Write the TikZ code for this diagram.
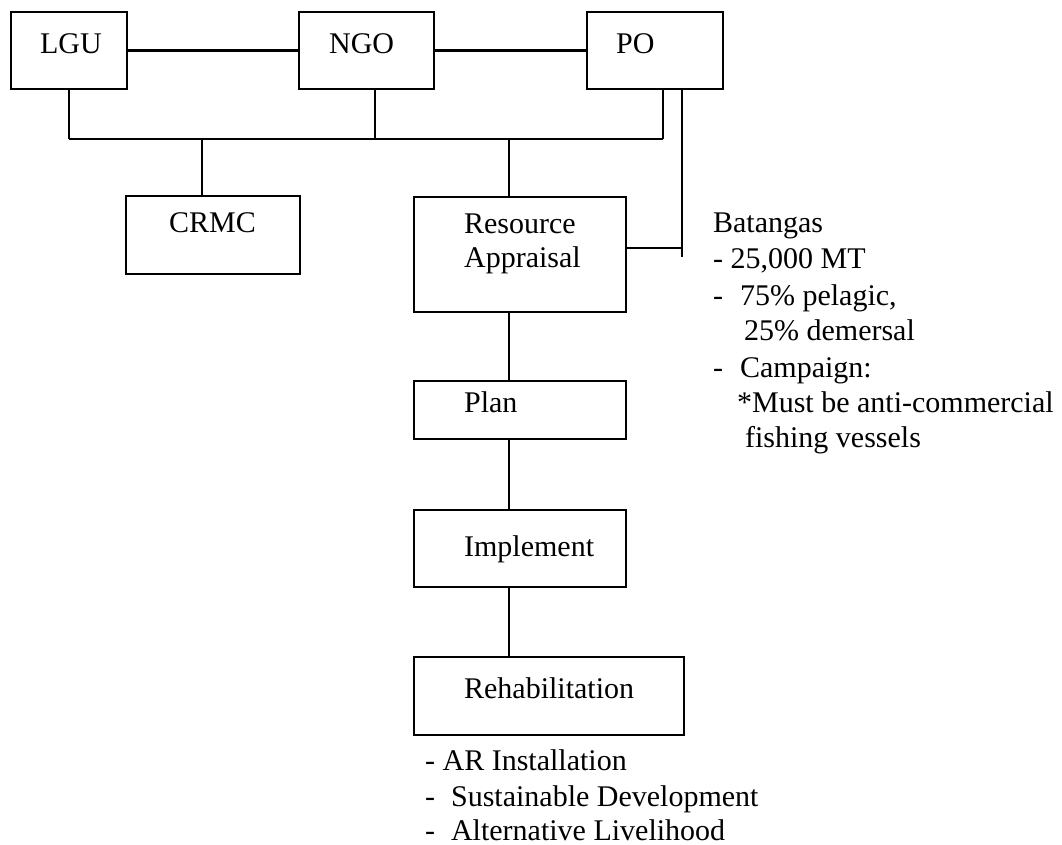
\documentclass[tikz,border=0pt]{standalone}
\usepackage{fontspec}
\setmainfont{Liberation Serif}
\begin{document}
\begin{tikzpicture}[x=1pt,y=-1pt,line width=2.2pt,
  box/.style={draw, rectangle, anchor=north west, inner sep=0pt},
  lbl/.style={anchor=base west, inner sep=0pt, font=\fontsize{30}{36}\selectfont}]
\useasboundingbox (0,0) rectangle (1062,845);
% boxes
\node[box, minimum width=116pt, minimum height=77pt] (lgu) at (10,11) {};
\node[box, minimum width=135pt, minimum height=77pt] (ngo) at (298,11) {};
\node[box, minimum width=136pt, minimum height=77pt] (po) at (586,11) {};
\node[box, minimum width=174pt, minimum height=78pt] (crmc) at (125,195) {};
\node[box, minimum width=212pt, minimum height=115pt] (ra) at (413,196) {};
\node[box, minimum width=212pt, minimum height=58pt] (plan) at (413,380) {};
\node[box, minimum width=212pt, minimum height=77pt] (impl) at (413,509) {};
\node[box, minimum width=270pt, minimum height=78pt] (rehab) at (413,656) {};
% box labels
\node[lbl] (tlgu) at (39,54) {LGU};
\node[lbl] (tngo) at (328,54) {NGO};
\node[lbl] (tpo) at (615,54) {PO};
\node[lbl] (tcrmc) at (168,232) {CRMC};
\node[lbl] (tra1) at (463,233) {Resource};
\node[lbl] (tra2) at (463,267) {Appraisal};
\node[lbl] (tplan) at (463,412) {Plan};
\node[lbl] (timpl) at (463,556) {Implement};
\node[lbl] (trehab) at (463,698) {Rehabilitation};
% helper coordinates
\coordinate (bus) at (0,139);
\coordinate (ngoX) at (375,0);
\coordinate (poL) at (663,0);
\coordinate (poR) at (682,0);
\coordinate (crmcX) at (202,0);
\coordinate (spine) at (509,0);
\coordinate (poEnd) at (682,257);
\coordinate (raJ) at (682,248);
% connectors
\draw (lgu.east) -- (ngo.west);
\draw (ngo.east) -- (po.west);
\draw (lgu.south |- bus) -- (poL |- bus);
\draw (lgu.south) -- (lgu.south |- bus);
\draw (ngo.south -| ngoX) -- (ngoX |- bus);
\draw (po.south -| poL) -- (poL |- bus);
\draw (crmcX |- bus) -- (crmc.north -| crmcX);
\draw (spine |- bus) -- (ra.north -| spine);
\draw (po.south -| poR) -- (poEnd);
\draw (ra.east |- raJ) -- (raJ);
\draw (ra.south -| spine) -- (plan.north -| spine);
\draw (plan.south -| spine) -- (impl.north -| spine);
\draw (impl.south -| spine) -- (rehab.north -| spine);
% Batangas notes
\node[lbl] (b1) at (712,232) {Batangas};
\node[lbl] (b2) at (712,268) {- 25,000 MT};
\node[lbl] (b3) at (712,305) {-\hspace{17pt}75\% pelagic,};
\node[lbl] (b4) at (743,340) {25\% demersal};
\node[lbl] (b5) at (712,377) {-\hspace{17pt}Campaign:};
\node[lbl] (b6) at (736,412) {*Must be anti-commercial};
\node[lbl] (b7) at (744,447) {fishing vessels};
% rehabilitation notes
\node[lbl] (r1) at (424,770) {- AR Installation};
\node[lbl] (r2) at (424,806) {-\hspace{16pt}Sustainable Development};
\node[lbl] (r3) at (424,840) {-\hspace{16pt}Alternative Livelihood};
\end{tikzpicture}
\end{document}
